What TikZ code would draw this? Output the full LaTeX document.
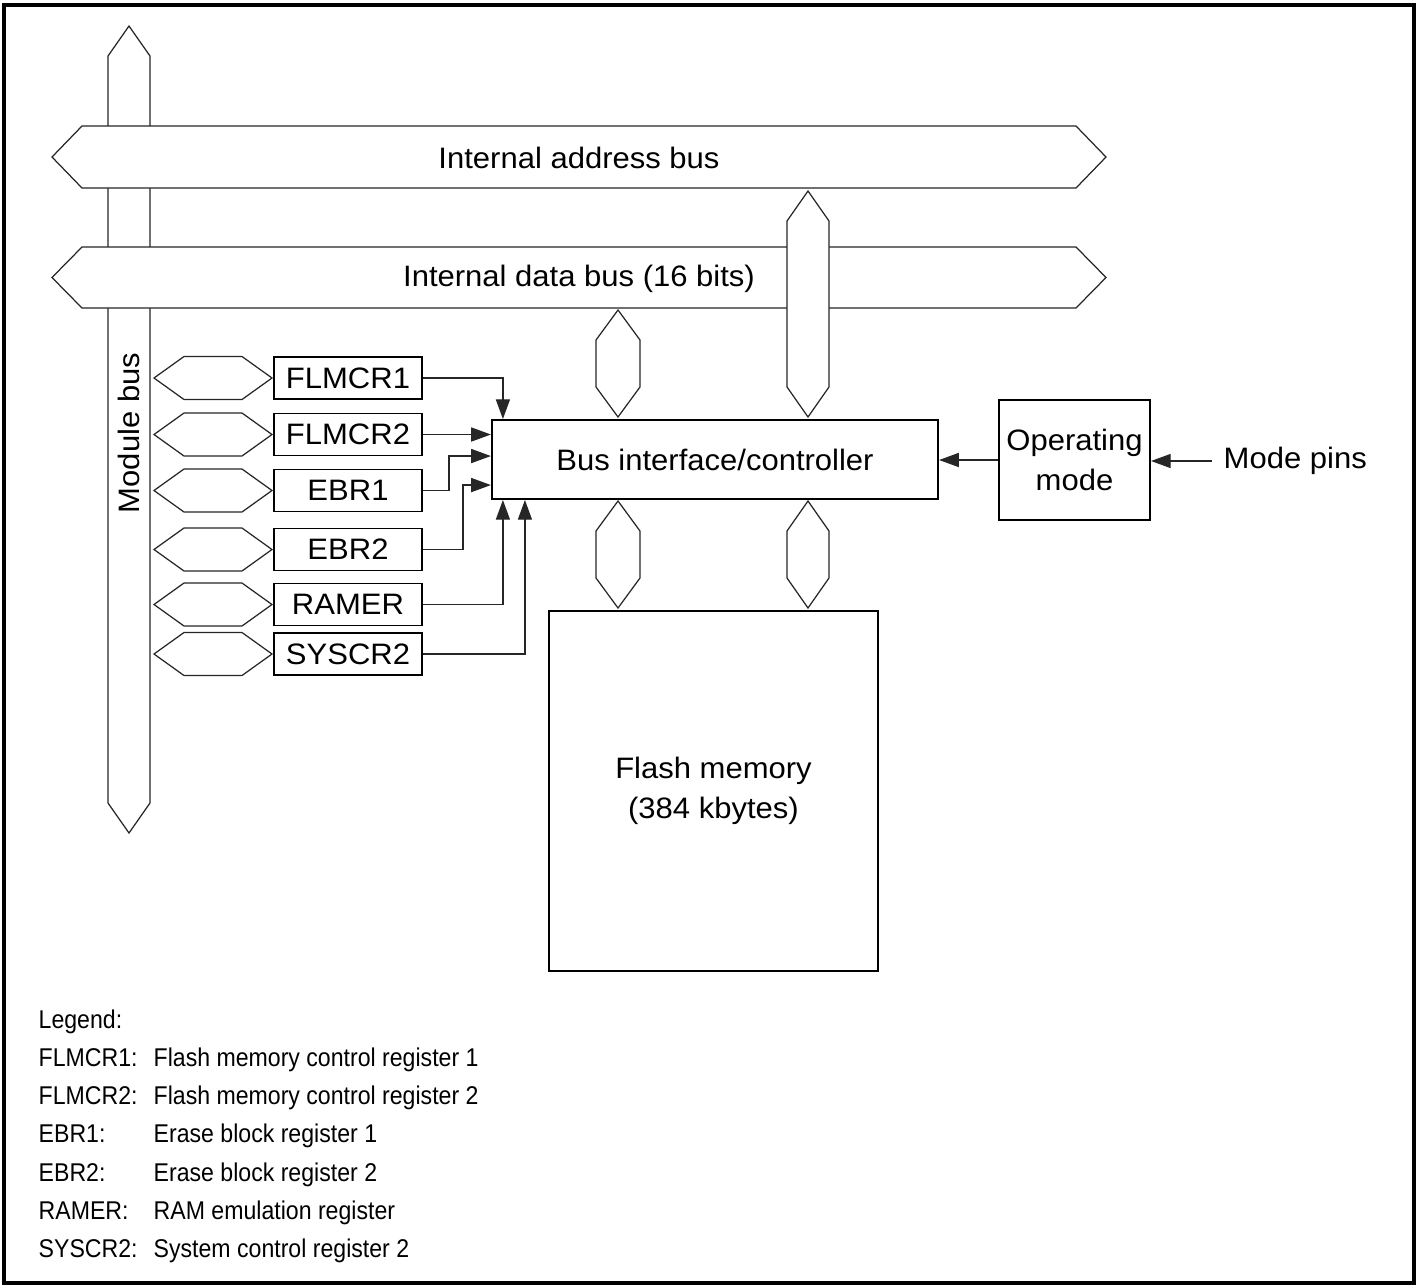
\documentclass[tikz,border=0pt]{standalone}
\usepackage{fontspec}
\setmainfont{Liberation Sans}[FakeStretch=1.05]
\newfontfamily\legendfont[FakeStretch=0.9]{Liberation Sans}
\usetikzlibrary{arrows.meta, positioning}

% bus outlines: vertical (x left, x right, top tip, bottom tip)
\newcommand{\vbus}[4]{%
  \draw[bus] ({(#1+#2)/2},#3) -- (#2,#3+30) -- (#2,#4-30) -- ({(#1+#2)/2},#4)
    -- (#1,#4-30) -- (#1,#3+30) -- cycle;}
% horizontal (left tip, right tip, y top, y bottom)
\newcommand{\hbus}[4]{%
  \draw[bus] (#1,{(#3+#4)/2}) -- (#1+30,#3) -- (#2-30,#3) -- (#2,{(#3+#4)/2})
    -- (#2-30,#4) -- (#1+30,#4) -- cycle;}

\begin{document}
\begin{tikzpicture}[x=0.01cm, y=-0.01cm,
  font=\fontsize{8.4}{11.2}\selectfont,
  bus/.style={draw=black!85, fill=white, line width=0.35pt},
  box/.style={draw, line width=0.55pt, inner sep=0pt, align=center},
  reg/.style={box, minimum width=1.48cm, minimum height=0.42cm},
  arr/.style={-{Triangle[length=5.6pt,width=4pt]}, line width=0.35pt, draw=black!85},
  legend/.style={font=\legendfont\fontsize{7.3}{9}\selectfont, inner sep=0pt, anchor=base west}]
  \useasboundingbox (0,0) rectangle (1421,1287);
  \draw[line width=1pt] (4,5) rectangle (1414,1283);

  % module bus and internal buses
  \vbus{108}{150}{26}{833}
  \node[rotate=90] (modbus) at (129,433) {Module bus};
  \hbus{52}{1106}{126}{188}
  \hbus{52}{1106}{247}{308}
  \node (addrbus) at (579,158) {Internal address bus};
  \node (databus) at (579,279) {Internal data bus (16 bits)};
  \vbus{787}{829}{191}{417}
  \vbus{596}{640}{310}{417}
  \vbus{596}{640}{501}{608}
  \vbus{787}{829}{501}{608}

  % blocks
  \node[box, minimum width=4.46cm, minimum height=0.79cm] (ctrl) at (715,459.5) {Bus interface/controller};
  \node[box, minimum width=3.29cm, minimum height=3.60cm] (flash) at (713.5,791) {Flash memory\\(384 kbytes)};
  \node[box, minimum width=1.51cm, minimum height=1.20cm] (opmode) at (1074.5,460) {Operating\\mode};
  \node[anchor=west, inner sep=0.11cm] (pins) at (1212,461) {Mode pins};

  % registers on the module bus
  \foreach \name/\txt/\yc in {flmcr1/FLMCR1/378, flmcr2/FLMCR2/434.5, ebr1/EBR1/490.5,
      ebr2/EBR2/549.5, ramer/RAMER/604.5, syscr2/SYSCR2/654} {
    \hbus{154}{272}{\yc-21.5}{\yc+21.5}
    \node[reg] (\name) at (348,\yc) {\txt};
  }

  % connectors
  \coordinate (c1) at ([xshift=0.12cm]ctrl.north west);
  \coordinate (c3) at ([yshift=-0.37cm]ctrl.north west);
  \coordinate (c4) at ([yshift=-0.66cm]ctrl.north west);
  \coordinate (c5) at ([xshift=0.12cm]ctrl.south west);
  \coordinate (c6) at ([xshift=0.34cm]ctrl.south west);
  \draw[arr] (flmcr1.east) -| (c1);
  \draw[arr] (flmcr2.east) -- (flmcr2.east -| ctrl.west);
  \draw[arr] (ebr1.east) -- ++(26,0) |- (c3);
  \draw[arr] (ebr2.east) -- ++(40,0) |- (c4);
  \draw[arr] (ramer.east) -| (c5);
  \draw[arr] (syscr2.east) -| (c6);
  \draw[arr] (opmode.west) -- (opmode.west -| ctrl.east);
  \draw[arr] (pins.west) -- (pins.west -| opmode.east);

  % legend
  \node[legend] (leg) at (38,1028) {Legend:};
  \foreach \abbr/\desc [count=\i] in {FLMCR1/Flash memory control register 1,
      FLMCR2/Flash memory control register 2, EBR1/Erase block register 1,
      EBR2/Erase block register 2, RAMER/RAM emulation register,
      SYSCR2/System control register 2} {
    \node[legend] (key\i) at (38,{1028+38.3*\i}) {\abbr:};
    \node[legend] (txt\i) at (153,{1028+38.3*\i}) {\desc};
  }
\end{tikzpicture}
\end{document}
